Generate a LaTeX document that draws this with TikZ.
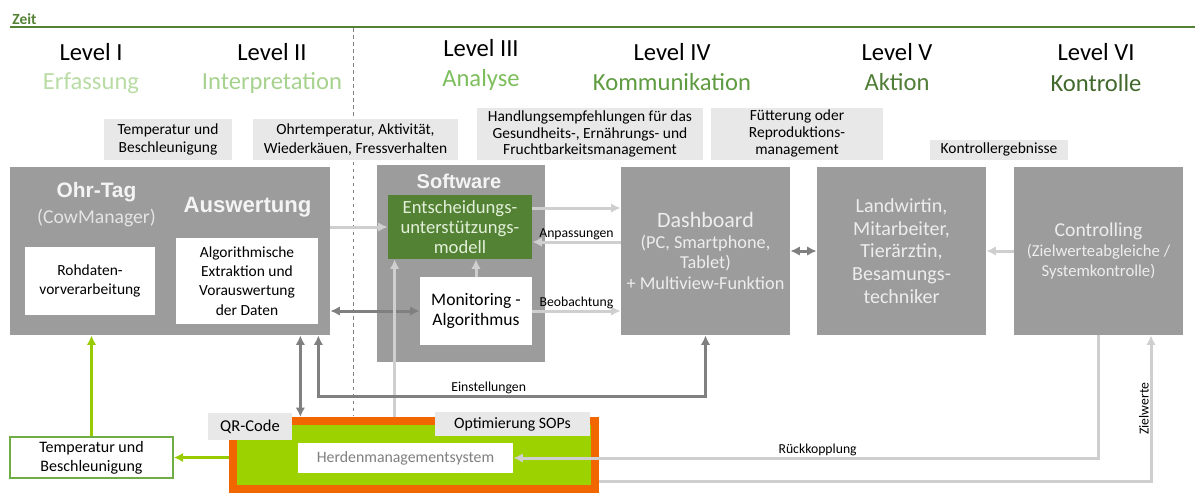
\documentclass[tikz,border=0pt]{standalone}
\usepackage{fontspec}
\setmainfont{Carlito}
\newfontfamily\headfont{Liberation Sans}
\usetikzlibrary{arrows.meta,calc}

\definecolor{boxgray}{HTML}{9C9C9C}
\definecolor{labgray}{HTML}{E8E8E8}
\definecolor{lightline}{HTML}{CFCFCF}
\definecolor{darkline}{HTML}{808080}
\definecolor{limefill}{HTML}{9BD200}
\definecolor{limeline}{HTML}{99CC00}
\definecolor{herdeorange}{HTML}{F26600}
\definecolor{tempgreen}{HTML}{70AD47}
\definecolor{zeitgreen}{HTML}{548235}
\definecolor{entgreen}{HTML}{548235}
\definecolor{enttext}{HTML}{E2F0D9}
\definecolor{titletext}{HTML}{F4F4F4}
\definecolor{subtext}{HTML}{E4E4E4}
\definecolor{boxtext}{HTML}{EDEDED}
\definecolor{hmstext}{HTML}{7F7F7F}
\definecolor{levA}{HTML}{B9DCA5}
\definecolor{levB}{HTML}{A6D28E}
\definecolor{levC}{HTML}{7DBE5C}
\definecolor{levD}{HTML}{5F9B41}
\definecolor{levE}{HTML}{507D37}
\definecolor{levF}{HTML}{42692D}

\begin{document}
\begin{tikzpicture}[
    >={Latex[length=1.9mm, width=1.9mm]},
    graybox/.style={fill=boxgray, text=boxtext, align=center, inner sep=0pt,
      minimum width=3.38cm, minimum height=3.36cm},
    whitebox/.style={fill=white, align=center, inner sep=0pt,
      font=\fontsize{8.8}{11}\selectfont},
    labelbox/.style={fill=labgray, align=center, inner sep=0pt,
      font=\fontsize{8.8}{10.4}\selectfont},
    level/.style={font=\fontsize{14}{16}\selectfont},
    note/.style={font=\fontsize{7.8}{9}\selectfont, inner sep=0.5pt},
    lightarrow/.style={draw=lightline, line width=1.7pt},
    darkarrow/.style={draw=darkline, line width=1.7pt},
    greenarrow/.style={draw=limeline, line width=1.7pt},
  ]
    \useasboundingbox (0, 0) rectangle (23.9, -9.86);

    % Zeitachse und Trennlinie
    \node[anchor=west, inner sep=0pt, text=zeitgreen, font=\bfseries\fontsize{8.8}{10}\selectfont] (Zeit) at (0.24, -0.38) {Zeit};
    \coordinate (Zeit Start) at (0.2, -0.54);
    \coordinate (Zeit End) at (23.9, -0.54);
    \coordinate (Split Top) at (7.06, -0.56);
    \coordinate (Split Bottom) at (7.06, -8.3);
    \draw[zeitgreen, line width=1.6pt] (Zeit Start) -- (Zeit End);
    \draw[darkline, line width=0.5pt, dash pattern=on 2pt off 2pt] (Split Top) -- (Split Bottom);

    % Level
    \node[level] (Level I) at (1.82, -1.04) {Level I};
    \node[level, text=levA] (Erfassung) at (1.82, -1.66) {Erfassung};
    \node[level] (Level II) at (5.44, -1.04) {Level II};
    \node[level, text=levB] (Interpretation) at (5.44, -1.66) {Interpretation};
    \node[level] (Level III) at (9.62, -0.96) {Level III};
    \node[level, text=levC] (Analyse) at (9.62, -1.60) {Analyse};
    \node[level] (Level IV) at (13.44, -1.04) {Level IV};
    \node[level, text=levD] (Kommunikation) at (13.44, -1.64) {Kommunikation};
    \node[level] (Level V) at (17.94, -1.04) {Level V};
    \node[level, text=levE] (Aktion) at (17.94, -1.64) {Aktion};
    \node[level] (Level VI) at (21.92, -1.04) {Level VI};
    \node[level, text=levF] (Kontrolle) at (21.92, -1.66) {Kontrolle};

    % Beschriftungen oben
    \node[labelbox, minimum width=2.56cm, minimum height=0.82cm] (Sensor Daten) at (3.36, -2.79) {Temperatur und\\Beschleunigung};
    \node[labelbox, minimum width=4.1cm, minimum height=0.82cm] (Merkmale) at (7.11, -2.79) {Ohrtemperatur, Aktivität,\\Wiederkäuen, Fressverhalten};
    \node[labelbox, minimum width=4.52cm, minimum height=1.04cm, font=\fontsize{8.8}{9.6}\selectfont] (Empfehlungen) at (11.8, -2.68) {Handlungsempfehlungen für das\\Gesundheits-, Ernährungs- und\\Fruchtbarkeitsmanagement};
    \node[labelbox, minimum width=3.44cm, minimum height=1.04cm, font=\fontsize{8.8}{9.6}\selectfont] (Management) at (15.94, -2.67) {Fütterung oder\\Reproduktions-\\management};
    \node[labelbox, minimum width=2.76cm, minimum height=0.4cm] (Ergebnisse) at (19.98, -2.99) {Kontrollergebnisse};

    % Ohr-Tag und Auswertung
    \node[graybox, minimum width=6.4cm] (Ohr Tag) at (3.4, -5.02) {};
    \node[text=titletext, font=\headfont\bfseries\fontsize{11.9}{14}\selectfont] (Ohr Tag Title) at (1.93, -3.84) {Ohr-Tag};
    \node[text=subtext, font=\fontsize{11.2}{13}\selectfont] (CowManager) at (1.93, -4.35) {(CowManager)};
    \node[text=titletext, font=\headfont\bfseries\fontsize{12.6}{15}\selectfont] (Auswertung) at (4.95, -4.14) {Auswertung};
    \node[whitebox, minimum width=2.6cm, minimum height=1.36cm] (Rohdaten) at (1.8, -5.62) {Rohdaten-\\vorverarbeitung};
    \node[whitebox, minimum width=2.84cm, minimum height=1.72cm] (Algorithmus) at (4.94, -5.62) {Algorithmische\\Extraktion und\\Vorauswertung\\der Daten};

    % Software
    \node[graybox, minimum width=3.36cm, minimum height=3.94cm] (Software) at (9.22, -5.27) {};
    \node[text=titletext, font=\headfont\bfseries\fontsize{11.4}{14}\selectfont] (Software Title) at (9.18, -3.63) {Software};
    \node[fill=entgreen, text=enttext, align=center, inner sep=0pt, minimum width=2.88cm, minimum height=1.28cm, font=\fontsize{10.6}{11.6}\selectfont] (Modell) at (9.2, -4.54) {Entscheidungs-\\unterstützungs-\\modell};
    \node[whitebox, minimum width=2.24cm, minimum height=1.36cm, font=\fontsize{10}{11.4}\selectfont] (Monitoring) at (9.52, -6.22) {Monitoring -\\Algorithmus};

    % Dashboard, Akteure, Controlling
    \node[graybox, font=\fontsize{10.4}{11.6}\selectfont] (Dashboard) at (14.11, -5.02) {{\fontsize{12.5}{14}\selectfont Dashboard}\\(PC, Smartphone,\\Tablet)\\+ Multiview-Funktion};
    \node[graybox, font=\fontsize{11.4}{13}\selectfont] (Landwirtin) at (18.03, -5.02) {Landwirtin,\\Mitarbeiter,\\Tierärztin,\\Besamungs-\\techniker};
    \node[graybox, font=\fontsize{9.5}{11.4}\selectfont] (Controlling) at (21.97, -5.02) {{\fontsize{11.2}{13}\selectfont Controlling}\\(Zielwerteabgleiche /\\Systemkontrolle)};

    % Herdenmanagement unten
    \node[fill=limefill, draw=herdeorange, line width=4.5pt, minimum width=7.24cm, minimum height=1.36cm] (Herde) at (8.28, -9.10) {};
    \node[labelbox, minimum width=1.68cm, minimum height=0.54cm, font=\fontsize{9.4}{11}\selectfont] (QR Code) at (5.0, -8.53) {QR-Code};
    \node[labelbox, minimum width=3.1cm, minimum height=0.48cm, font=\fontsize{9}{11}\selectfont] (SOPs) at (10.25, -8.48) {Optimierung SOPs};
    \node[whitebox, minimum width=4.3cm, minimum height=0.6cm, text=hmstext, font=\fontsize{9}{11}\selectfont] (HMS) at (8.11, -9.16) {Herdenmanagementsystem};
    \node[fill=white, draw=tempgreen, line width=0.8pt, align=center, inner sep=0pt, minimum width=3.26cm, minimum height=0.82cm, font=\fontsize{9.1}{11}\selectfont] (Sensor) at (1.83, -9.15) {Temperatur und\\Beschleunigung};

    % Hilfspunkte
    \coordinate (Modell Out) at ($(Modell.east)+(0,0.38)$);
    \coordinate (Modell In) at ($(Modell.east)+(0,-0.3)$);
    \coordinate (HMS Up) at ($(Modell.south west)+(0.14,0)$);
    \coordinate (QR Link) at ($(Ohr Tag.south east)+(-0.6,0)$);
    \coordinate (Einstellung Link) at ($(Ohr Tag.south east)+(-0.24,0)$);
    \coordinate (Zielwerte Start) at ($(Herde.south east)+(0,0.22)$);
    \coordinate (Zielwerte End) at ($(Controlling.south)+(1.05,0)$);

    % Verbindungen
    \draw[->, lightarrow] (Ohr Tag.east |- Modell.west) -- (Modell.west);
    \draw[<->, darkarrow] (Ohr Tag.east |- Monitoring.west) -- (Monitoring.west);
    \draw[->, lightarrow] (Monitoring.north) -- (Monitoring.north |- Modell.south);
    \draw[->, lightarrow] (Modell Out) -- (Modell Out -| Dashboard.west);
    \draw[->, lightarrow] (Modell In -| Dashboard.west) -- node[note, above] {Anpassungen} (Modell In);
    \draw[->, lightarrow] (Monitoring.east) -- node[note, above] {Beobachtung} (Monitoring.east -| Dashboard.west);
    \draw[<->, darkarrow] (Dashboard.east) -- (Landwirtin.west);
    \draw[->, lightarrow] (Controlling.west) -- (Landwirtin.east);
    \draw[->, lightarrow] (HMS Up |- Herde.north) -- (HMS Up);
    \draw[->, greenarrow] (Sensor.north) -- (Sensor.north |- Ohr Tag.south);
    \draw[->, greenarrow] (Herde.west |- Sensor.east) -- (Sensor.east);
    \draw[<->, darkarrow] (QR Link |- Herde.north) -- (QR Link);
    \draw[<->, darkarrow] (Einstellung Link) -- ++(0,-1.22) -| node[note, above, pos=0.22] {Einstellungen} (Dashboard.south);
    \draw[->, lightarrow] (Controlling.south) |- node[note, above, pos=0.74] {Rückkopplung} (HMS.east);
    \draw[->, lightarrow] (Zielwerte Start) -| node[note, pos=0.75, rotate=90, anchor=south] {Zielwerte} (Zielwerte End);
\end{tikzpicture}
\end{document}
